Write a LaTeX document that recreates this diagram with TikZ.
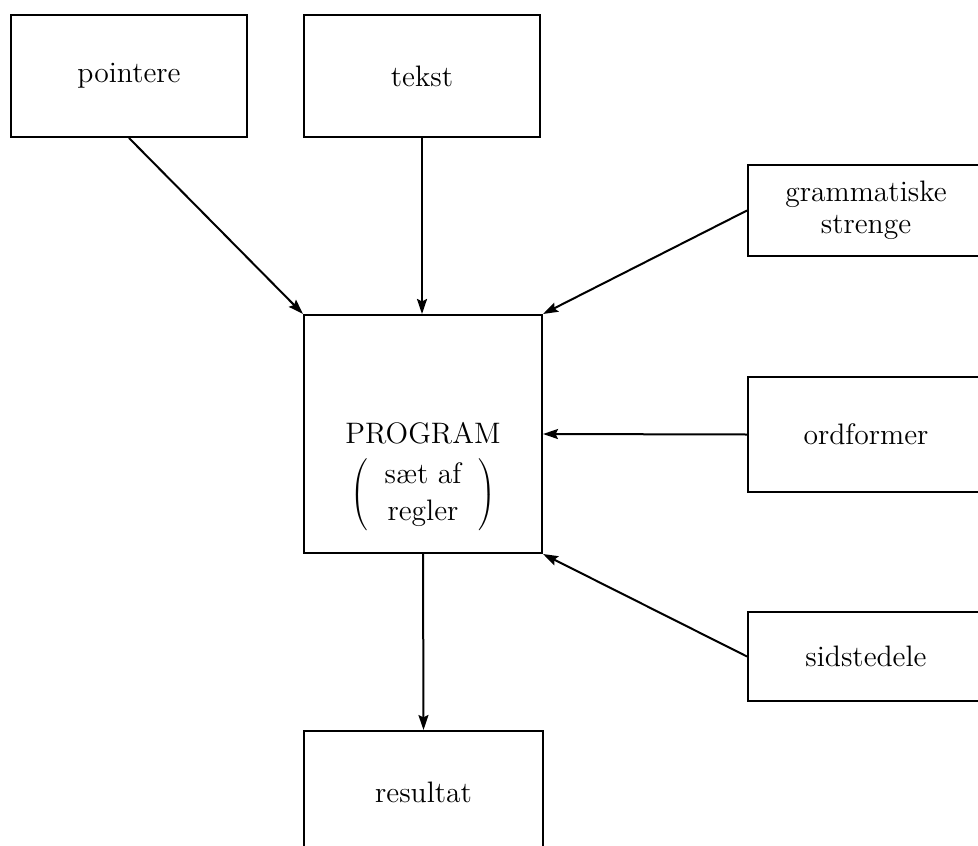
\documentclass[tikz,border=0pt]{standalone}
\usetikzlibrary{arrows.meta}
\begin{document}
\begin{tikzpicture}[x=0.5pt,y=-0.5pt,
  txt/.style={font=\fontsize{14.8}{16}\selectfont},
  box/.style={draw,line width=1pt,minimum width=118pt,inner sep=0pt,align=center,txt},
  conn/.style={line width=1pt,-{Stealth[length=7.5pt,width=5pt,inset=1.2pt]}}]
\useasboundingbox (0,0) rectangle (978,845);
\clip (0,0) rectangle (978,845);
\node[box,minimum height=61pt] (pointere) at (129,76) {pointere};
\node[box,minimum height=61pt] (tekst) at (422,76) {tekst};
\node[box,minimum height=45.5pt] (gram) at (866,210.5) {grammatiske\\strenge};
\node[box,minimum height=57.5pt] (ordf) at (866,434.5) {ordformer};
\node[box,minimum height=44.5pt] (sidst) at (866,656.5) {sidstedele};
\node[box,minimum width=119pt,minimum height=119pt] (prog) at (423,434) {};
\node[txt,inner sep=0pt,anchor=base] (progname) at (423,443) {PROGRAM};
\node[inner sep=0pt,font=\fontsize{14.8}{18.5}\selectfont] (progrules) at (423,495)
  {$\left(\hspace{8.5pt}\begin{tabular}{@{}c@{}}sæt af\\regler\end{tabular}\hspace{8.5pt}\right)$};
\node[box,minimum width=119.5pt,minimum height=61pt] (res) at (423.5,792) {resultat};
\draw[conn] (pointere.south) -- (prog.north west);
\draw[conn] (tekst.south) -- (tekst.south |- prog.north);
\draw[conn] (gram.west) -- (prog.north east);
\draw[conn] (ordf.west) -- (prog.east);
\draw[conn] (sidst.west) -- (prog.south east);
\draw[conn] (prog.south) -- (res.north);
\end{tikzpicture}
\end{document}
